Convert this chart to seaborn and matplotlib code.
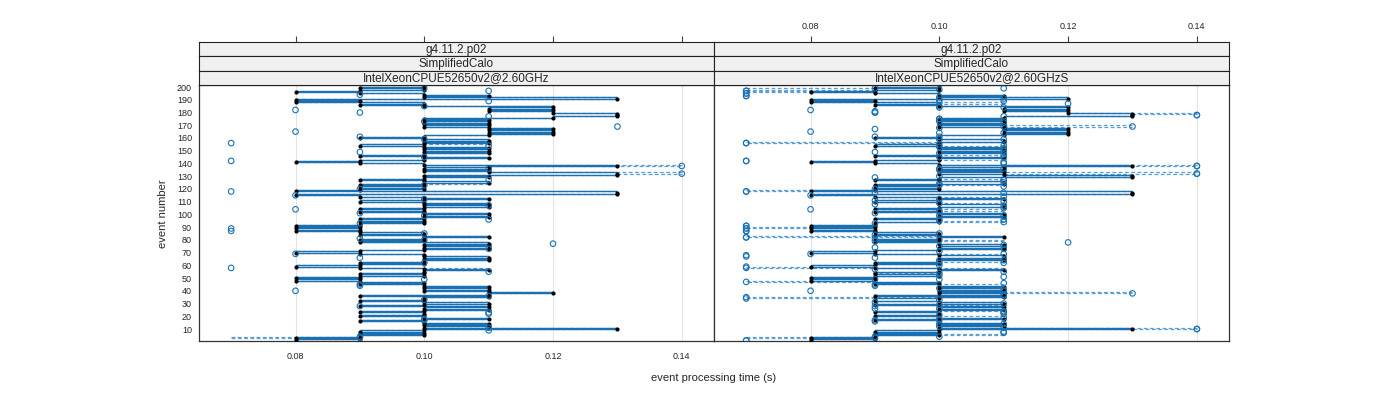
import numpy as np
import pandas as pd
import matplotlib
matplotlib.use("Agg")
import matplotlib.pyplot as plt
import seaborn as sns

sns.set_style("white")
plt.rcParams['font.family'] = ['Liberation Sans', 'DejaVu Sans']

# event processing time per event (1..200), one code per event:
# 7=0.07 8=0.08 9=0.09 0=0.10 1=0.11 2=0.12 3=0.13 4=0.14  .=no point
left_black = ("8989090903" "0101090109" "0090101901" "0900191210" "1010909898"
              "9090010989" "0901010098" "9010101909" "0109098989" "8909090101"
              "0909010109" "0109833890" "9090109010" "3310101309" "8901090101"
              "0109010109" "0121212101" "0101023332" "1212090898" "3010989090")
left_dashed = ("8979090903" "0101090109" "0090111901" "0900191211" "1010909898"
               "9090011989" "0901010098" "9011101909" "0109098889" "8909090101"
               "0909011109" "0109833990" "9091109010" "3410101409" "8901090101"
               "0109110109" "0121212101" "0101023332" "1212090898" "3010999090")
left_circles = ("..99....1." "1.....00.." ".11....9.." "..0..1...8" "...99...0."
                "....1..7.." ".0...9..8." "..1...2..0" "9...0.7.7." "..9..1..0."
                "9..8..1..." ".0..8..7.9" "..0...1..." ".4...1.4.." ".7..0...9."
                "...1.7..0." "9...8...3." "..0...1..9" ".8..0...1." "...9..1.0.")

right_black = ("8989090903" "0101009109" "0090101091" "0990191010" "1010909898"
               "9099010989" "0901011098" "9010110909" "0109098989" "8990090101"
               "0909011009" "0109833890" "9091109033" "1010101309" "8901090101"
               "0109001109" "0121212101" "0101013332" "1212090898" "2010989090")
right_dashed = ("8979190904" "0111009119" "0091101191" "0997191310" "1011907898"
                "9009011789" "0911011198" "9011110919" "0709098979" "8991090111"
                "0919011109" "0119833790" "9011109133" "1410101409" "8911091101"
                "0119071109" "0111212131" "0111013342" "1211091898" "2010979790")
right_circles = ("7.99...1.4" "1..0.900.." ".11..0.9.1" "..07.1.3.8" "1..99.7.0."
                 ".0..1..7.0" ".0.1.9.78." "..1.0..2.0" "97..0.7.7." "7.9.01..0."
                 "9.08..1.0." ".0..8.17.9" "..0.1.1..0" ".4..01.4.1" ".7..0.1.9."
                 "..01.7..0." "9..08..03." "..0.0.14.9" ".8.10..01." ".07.7.709.")
right_circles2 = ("7..0..1..4" ".0.1..9.1." "0..1.9..0." "9...7.1..1" ".0...1..9."
                  "1..0..9.7." ".1.0..7.1." "0..9.1..9." ".7.9..7.7." "7..1.0..1."
                  ".0..1..9.1" "9..1..97.." ".1.0..1.9." ".4...0.4.." "17..1..0.1"
                  ".1..07..1." "0..1..9.1." ".1..0..4.9" "9..0..2..0" "1.7.7.7.1.")

strip_rows = ["g4.11.2.p02", "SimplifiedCalo"]
machines = ["IntelXeonCPUE52650v2@2.60GHz", "IntelXeonCPUE52650v2@2.60GHzS"]
x_ticks = [0.08, 0.10, 0.12, 0.14]
y_ticks = list(range(10, 201, 10))

CODE = {'7': 0.07, '8': 0.08, '9': 0.09, '0': 0.10, '1': 0.11,
        '2': 0.12, '3': 0.13, '4': 0.14, '.': np.nan}
events = np.arange(1, 201)


def run_frame(s):
    df = pd.DataFrame({"event": events, "time": [CODE[c] for c in s]})
    return df.dropna()


def steps(ax, s, **kw):
    # horizontal segment at each event from previous event's time to its own
    t = np.array([CODE[c] for c in s])
    ax.hlines(events[1:], t[:-1], t[1:], **kw)


SOLID = '#1a70b0'
DASH = '#5a9ed3'
CIRC = '#1a73b5'
XLIM = (0.065, 0.145)
YLIM = (0.6, 201.6)

fig = plt.figure(figsize=(14, 4), dpi=100)

panels = [(0.1421, left_black, left_dashed, [left_circles], machines[0], False),
          (0.5100, right_black, right_dashed, [right_circles, right_circles2],
           machines[1], True)]

W, B, H = 0.3679, 0.1475, 0.64
SH = 0.03583

for i, (x0, black, dashed, circles, machine, top_labels) in enumerate(panels):
    ax = fig.add_axes([x0, B, W, H])
    for xv in x_ticks:
        ax.axvline(xv, color='#e4e4e4', lw=0.8, zorder=0)

    steps(ax, dashed, color=DASH, lw=0.9, linestyles=(0, (3, 2)), zorder=1)
    steps(ax, black, color=SOLID, lw=1.0, zorder=2)

    bk = run_frame(black)
    sns.scatterplot(data=bk, x="time", y="event", color='black', s=9,
                    linewidth=0, ax=ax, zorder=3)
    for c in circles:
        sns.scatterplot(data=run_frame(c), x="time", y="event", marker='o',
                        facecolor='none', edgecolor=CIRC, s=16, linewidth=0.8,
                        ax=ax, zorder=4)

    ax.set_xlim(*XLIM)
    ax.set_ylim(*YLIM)
    ax.set_xlabel('')
    ax.set_ylabel('')
    ax.set_xticks(x_ticks)
    ax.set_yticks(y_ticks)
    ax.tick_params(axis='x', direction='out', length=4, width=0.8,
                   color='#444444', labelsize=6.5, pad=4,
                   labelbottom=(i == 0))
    if i == 0:
        ax.tick_params(axis='y', direction='out', length=3, width=0.8,
                       color='#444444', labelsize=6.5, pad=2)
        ax.set_xticklabels([f"{v:.2f}" for v in x_ticks])
    else:
        ax.tick_params(axis='y', length=0, labelleft=False)
    for sp in ax.spines.values():
        sp.set_visible(True)
        sp.set_color('#333333')
        sp.set_linewidth(0.9)

    # strips
    labels = strip_rows + [machine]
    for k, lab in enumerate(labels):
        sax = fig.add_axes([x0, B + H + (2 - k) * SH, W, SH])
        sax.set_facecolor('#f0f0f0')
        sax.set_xlim(*XLIM)
        sax.set_yticks([])
        for sp in sax.spines.values():
            sp.set_visible(True)
            sp.set_color('#222222')
            sp.set_linewidth(0.8)
        sax.text(0.5, 0.45, lab, transform=sax.transAxes, ha='center',
                 va='center', fontsize=8.5)
        if k == 0:
            sax.set_xticks(x_ticks)
            sax.xaxis.tick_top()
            sax.tick_params(axis='x', direction='out', length=4, width=0.8,
                            color='#444444', labelsize=6.5, pad=4,
                            labeltop=top_labels, labelbottom=False)
            if top_labels:
                sax.set_xticklabels([f"{v:.2f}" for v in x_ticks])
        else:
            sax.set_xticks([])

fig.text(0.51, 0.055, "event processing time (s)", ha='center', va='center',
         fontsize=8)
fig.text(0.1164, 0.465, "event number", ha='center', va='center',
         rotation=90, fontsize=8)

fig.savefig("out.png", dpi=100)
